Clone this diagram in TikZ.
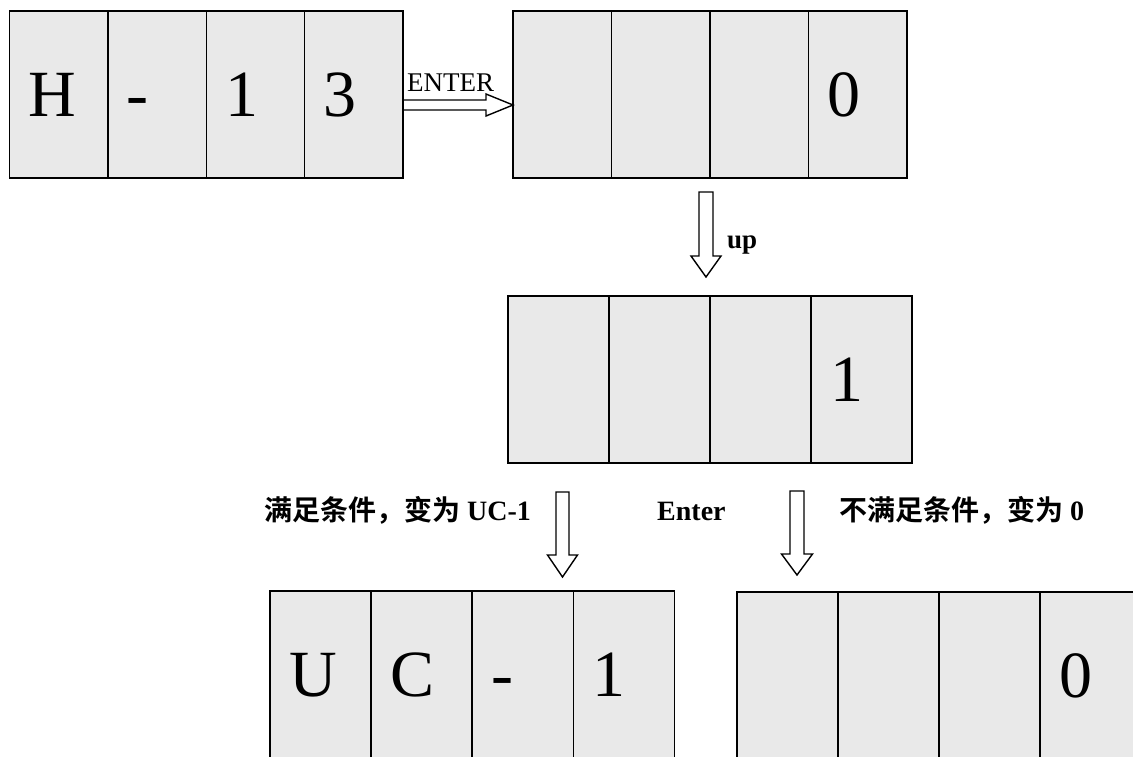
\documentclass[tikz,border=0pt]{standalone}
\usepackage{fontspec}
\setmainfont{Liberation Serif}
\newfontfamily\cjk{Noto Sans CJK SC}[BoldFont={Noto Sans CJK SC Bold}]
\usetikzlibrary{calc}
\definecolor{cellgray}{RGB}{233,233,233}
\newcommand\bigfont{\fontsize{66}{66}\selectfont}
% hollow block arrow pointing down: #1 start (top centre), #2 tip (its y is used), #3 shaft half width, #4 head half width, #5 head length
\newcommand\fatdown[5]{%
  \draw[fatline] let \p1=(#1), \p2=(#2) in
    (\x1-#3,\y1) -- (\x1+#3,\y1) -- (\x1+#3,\y2+#5) -- (\x1+#4,\y2+#5) --
    (\x1,\y2) -- (\x1-#4,\y2+#5) -- (\x1-#3,\y2+#5) -- cycle;}
% hollow block arrow pointing right: #1 start (left centre), #2 tip (its x is used)
\newcommand\fatright[5]{%
  \draw[fatline] let \p1=(#1), \p2=(#2) in
    (\x1,\y1+#3) -- (\x2-#5,\y1+#3) -- (\x2-#5,\y1+#4) -- (\x2,\y1) --
    (\x2-#5,\y1-#4) -- (\x2-#5,\y1-#3) -- (\x1,\y1-#3) -- cycle;}
\begin{document}
\begin{tikzpicture}[x=1pt,y=-1pt,
  cell/.style={draw=black, line width=1.5pt, fill=cellgray, minimum height=167pt,
    inner xsep=19pt, inner ysep=0pt, outer sep=0pt, text height=44pt, text depth=0pt,
    align=left, font=\bigfont, anchor=west},
  fatline/.style={draw=black, line width=1.4pt, line join=miter},
  lbl/.style={font=\fontsize{28}{28}\selectfont\bfseries, inner sep=0pt, anchor=base west}]

\clip (0,0) rectangle (1133,756);

% top left box
\node[cell, text width=60.35pt, anchor=north west] (tl1) at (9.6,11) {H};
\node[cell, text width=60.35pt] (tl2) at (tl1.east) {-};
\node[cell, text width=60.35pt] (tl3) at (tl2.east) {1};
\node[cell, text width=60.35pt] (tl4) at (tl3.east) {3};

% top right box
\node[cell, text width=60.5pt, anchor=north west] (tr1) at (513,11) {};
\node[cell, text width=60.5pt] (tr2) at (tr1.east) {};
\node[cell, text width=60.5pt] (tr3) at (tr2.east) {};
\node[cell, text width=60.5pt] (tr4) at (tr3.east) {0};

% middle box
\node[cell, text width=63pt, anchor=north west] (m1) at (508,296) {};
\node[cell, text width=63pt] (m2) at (m1.east) {};
\node[cell, text width=63pt] (m3) at (m2.east) {};
\node[cell, text width=63pt] (m4) at (m3.east) {1};

% bottom left box
\node[cell, text width=63.1pt, anchor=north west] (bl1) at (270,591) {U};
\node[cell, text width=63.1pt] (bl2) at (bl1.east) {C};
\node[cell, text width=63.1pt] (bl3) at (bl2.east) {-};
\node[cell, text width=63.1pt] (bl4) at (bl3.east) {1};

% bottom right box
\node[cell, text width=63pt, anchor=north west] (br1) at (737,592) {};
\node[cell, text width=63pt] (br2) at (br1.east) {};
\node[cell, text width=63pt] (br3) at (br2.east) {};
\node[cell, text width=63pt] (br4) at (br3.east) {0};

% arrows
\coordinate (eA) at ($(tl4.east)+(0,10.5)$);
\fatright{eA}{tr1.west}{5pt}{11pt}{27pt}

\coordinate (uA) at ($(tr2.south east)+(-4,14)$);
\coordinate (uB) at ($(m2.north east)+(0,-19)$);
\fatdown{uA}{uB}{7pt}{15pt}{21pt}

\coordinate (lA) at ($(m1.south)+(4,29)$);
\coordinate (lB) at ($(bl4.north)+(0,-14)$);
\fatdown{lA}{lB}{6.5pt}{15pt}{22pt}

\coordinate (rA) at ($(m3.south east)+(-14,28)$);
\coordinate (rB) at ($(br1.north)+(0,-17)$);
\fatdown{rA}{rB}{7pt}{15.5pt}{21pt}

% labels
\node[font=\fontsize{27}{27}\selectfont, inner sep=0pt, anchor=base west] (enterlbl) at (407,91) {ENTER};
\node[lbl, font=\fontsize{27}{27}\selectfont\bfseries] (uplbl) at (727,248) {up};
\node[lbl] (lcond) at (264,520) {{\cjk 满足条件，变为} UC-1};
\node[lbl] (enter2) at (657,520) {Enter};
\node[lbl] (rcond) at (839,520) {{\cjk 不满足条件，变为} 0};
\end{tikzpicture}
\end{document}
